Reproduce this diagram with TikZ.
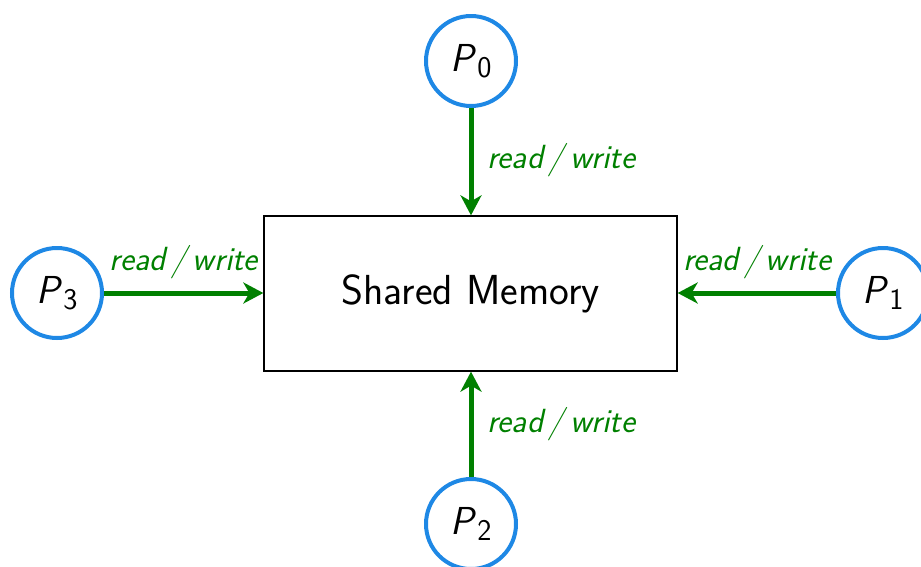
\documentclass[tikz,border=0pt]{standalone}
\usetikzlibrary{arrows.meta}
\definecolor{cblue}{RGB}{30,136,229}
\definecolor{cgreen}{RGB}{0,128,0}
\newcommand{\Pn}[1]{\textit{P}\kern0.5pt\raisebox{-6pt}{\fontsize{30}{32}\selectfont #1}}
\begin{document}
\begin{tikzpicture}[x=1pt,y=-1pt,
  proc/.style={circle,draw=cblue,line width=4pt,minimum size=90pt,inner sep=0pt,font=\sffamily\fontsize{39}{44}\selectfont},
  mem/.style={draw=black,line width=1.3pt,minimum width=413pt,minimum height=155pt,inner sep=0pt,font=\sffamily\fontsize{42}{48}\selectfont},
  rw/.style={text=cgreen,font=\sffamily\itshape\fontsize{33.5}{38}\selectfont,inner sep=0pt},
  arr/.style={draw=cgreen,line width=5pt,-{Stealth[length=20pt,width=21pt,inset=6pt]}}]
\useasboundingbox (0,0) rectangle (921,566);
\clip (0,0) rectangle (921,566);
\node[mem] (m) at (470.5,293.5) {Shared Memory};
\node[proc] (p0) at (471,61) {\Pn{0}};
\node[proc] (p1) at (883,293) {\Pn{1}};
\node[proc] (p2) at (471,524) {\Pn{2}};
\node[proc] (p3) at (57,293) {\Pn{3}};
\draw[arr] (p0) -- (p0 |- m.north);
\draw[arr] (p2) -- (p2 |- m.south);
\draw[arr] (p3) -- (p3 -| m.west);
\draw[arr] (p1) -- (p1 -| m.east);
\node[rw,anchor=west] (l0) at (487,160) {read\,/\,write};
\node[rw,anchor=west] (l2) at (487,424) {read\,/\,write};
\node[rw] (l3) at (184,262) {read\,/\,write};
\node[rw] (l1) at (757,262) {read\,/\,write};
\end{tikzpicture}
\end{document}
